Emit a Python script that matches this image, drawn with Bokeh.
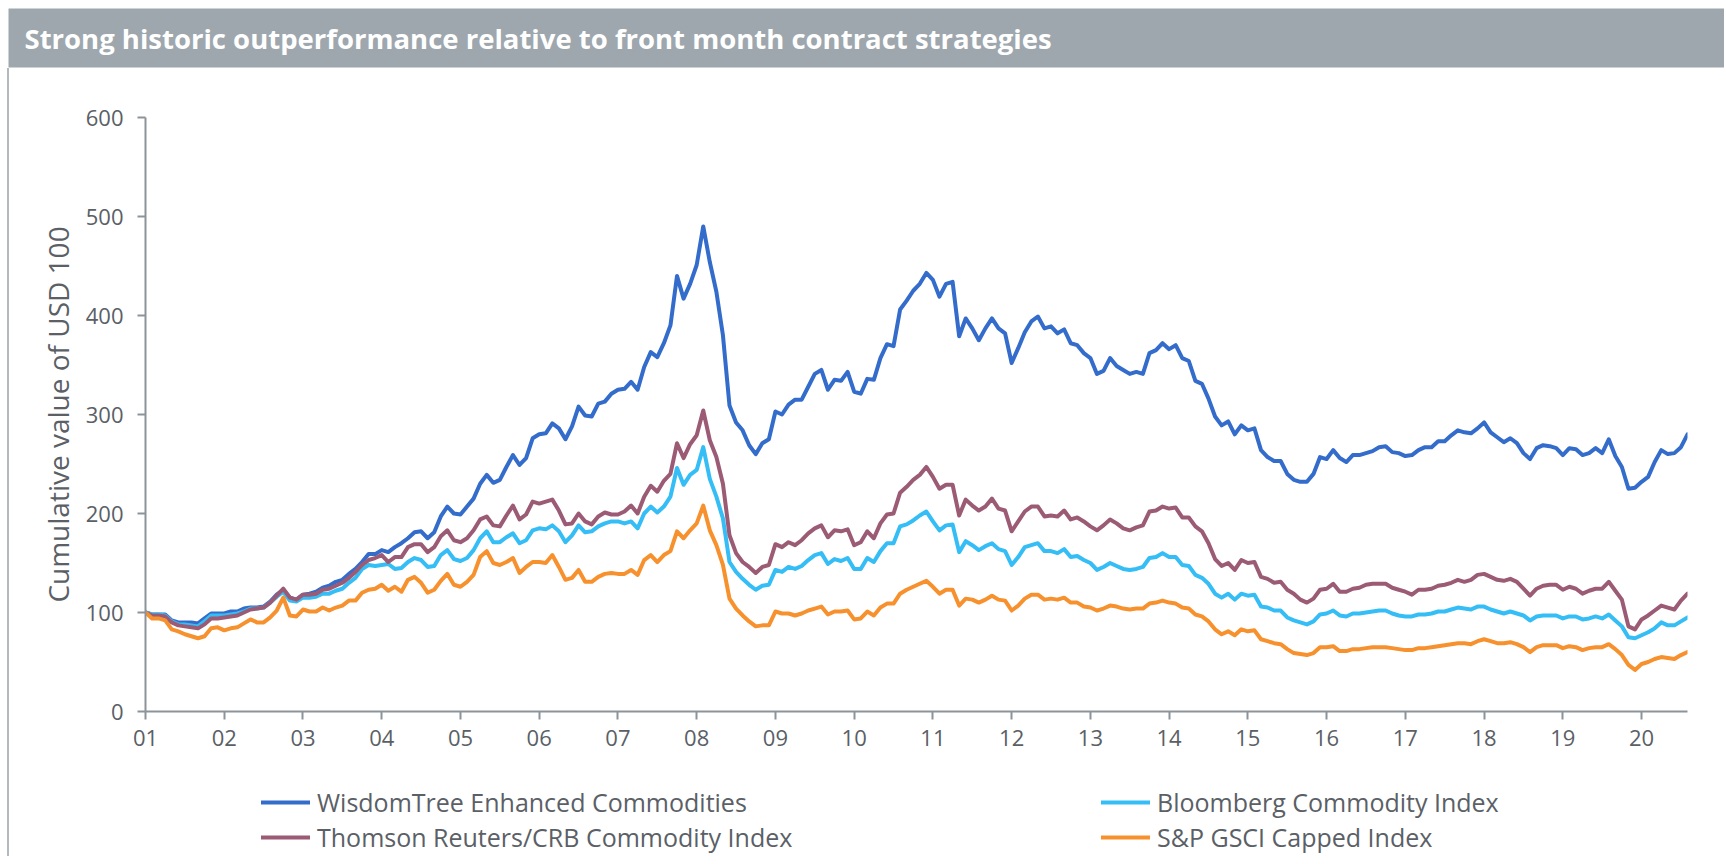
from bokeh.plotting import figure
from bokeh.models import Range1d, FixedTicker, Label, Legend, LegendItem, ColumnDataSource, Div
from bokeh.layouts import column, row
from bokeh.embed import file_html
from bokeh.resources import INLINE
import pandas as pd

# ---------------- data (monthly, Jan 2001 - Aug 2020) ----------------
first_month = "2001-01-01"
year_labels = ["01", "02", "03", "04", "05", "06", "07", "08", "09", "10",
               "11", "12", "13", "14", "15", "16", "17", "18", "19", "20"]
series_names = ["WisdomTree Enhanced Commodities", "Bloomberg Commodity Index",
                "Thomson Reuters/CRB Commodity Index", "S&P GSCI Capped Index"]
title_text = "Strong historic outperformance relative to front month contract strategies"
y_title = "Cumulative value of USD 100"

wisdomtree = [
    100, 98, 98, 98, 92, 90, 90, 90, 89, 94, 99, 99, 99, 101, 101, 104, 105, 105, 106, 111,
    118, 123, 115, 113, 118, 119, 121, 125, 127, 131, 133, 139, 144, 151, 159, 159, 163, 161, 166, 170,
    175, 181, 182, 175, 181, 197, 207, 200, 199, 207, 215, 230, 239, 231, 234, 247, 259, 249, 256, 276,
    280, 281, 291, 286, 275, 288, 308, 299, 298, 311, 313, 321, 325, 326, 333, 325, 348, 363, 358, 372,
    390, 440, 417, 432, 451, 490, 454, 424, 380, 309, 292, 284, 269, 260, 271, 275, 303, 300, 310, 315,
    315, 328, 341, 345, 325, 335, 334, 343, 323, 321, 336, 335, 357, 371, 369, 406, 415, 425, 432,
    443, 436, 419, 432, 434, 379, 397, 387, 375, 387, 397, 387, 382, 352, 367, 383, 394, 399, 387, 389,
    382, 386, 372, 370, 362, 357, 341, 344, 357, 349, 345, 341, 343, 341, 362, 365, 372, 366, 370, 357,
    354, 334, 331, 316, 298, 289, 293, 280, 289, 284, 286, 264, 257, 253, 253, 240, 234, 232, 232, 240,
    257, 255, 264, 256, 252, 259, 259, 261, 263, 267, 268, 262, 261, 258, 259, 264, 267, 267, 273, 273,
    279, 284, 282, 281, 286, 292, 282, 277, 272, 276, 271, 261, 255, 266, 269, 268, 266, 259, 266, 265,
    259, 261, 266, 261, 275, 258, 247, 225, 226, 232, 237, 252, 264, 260, 261, 267, 280]

bloomberg = [
    100, 98, 98, 97, 91, 88, 88, 87, 86, 91, 97, 97, 97, 98, 99, 101, 104, 104, 105, 110,
    116, 121, 112, 111, 115, 115, 116, 119, 119, 122, 124, 130, 135, 144, 148, 147, 148, 149, 144, 145,
    151, 155, 153, 146, 147, 158, 163, 154, 152, 155, 163, 175, 182, 171, 171, 176, 180, 170, 173, 183,
    185, 184, 188, 182, 171, 178, 188, 181, 182, 187, 190, 192, 192, 190, 192, 185, 200, 207, 201, 207,
    217, 246, 229, 239, 244, 267, 235, 217, 195, 151, 141, 134, 128, 123, 127, 128, 143, 141, 146, 144,
    147, 153, 158, 160, 149, 154, 152, 155, 144, 144, 155, 151, 162, 170, 170, 187, 189, 193, 198,
    202, 192, 183, 188, 189, 161, 172, 168, 163, 167, 170, 164, 162, 148, 156, 166, 168, 170, 162, 162,
    160, 164, 156, 157, 153, 150, 143, 146, 150, 147, 144, 143, 144, 146, 155, 156, 160, 156, 156, 148,
    147, 138, 135, 129, 119, 115, 119, 113, 119, 117, 118, 106, 105, 102, 102, 95, 92, 90, 88, 91,
    98, 99, 102, 97, 96, 99, 99, 100, 101, 102, 102, 99, 97, 96, 96, 98, 98, 99, 101, 101,
    103, 105, 104, 103, 106, 106, 103, 101, 99, 101, 99, 97, 92, 96, 97, 97, 97, 94, 96, 96,
    93, 94, 96, 94, 98, 92, 86, 75, 74, 77, 80, 84, 90, 87, 87, 91, 95]

thomson_crb = [
    100, 97, 97, 96, 90, 87, 86, 85, 84, 88, 94, 94, 95, 96, 97, 100, 103, 104, 105, 110,
    117, 124, 115, 113, 118, 118, 119, 123, 124, 127, 130, 135, 141, 148, 153, 155, 158, 151, 156, 156,
    166, 169, 169, 161, 166, 177, 183, 173, 171, 175, 183, 194, 197, 188, 187, 198, 208, 194, 199, 212,
    210, 212, 214, 203, 189, 190, 200, 192, 189, 197, 201, 199, 199, 202, 208, 200, 217, 228, 222, 233,
    240, 271, 256, 270, 279, 304, 274, 257, 230, 178, 160, 151, 146, 140, 146, 148, 169, 166, 171, 168,
    173, 180, 185, 188, 176, 183, 182, 184, 168, 171, 182, 175, 190, 199, 200, 221, 227, 234, 239,
    247, 237, 225, 229, 229, 198, 214, 208, 203, 207, 215, 205, 203, 182, 192, 202, 207, 207, 197, 198,
    197, 203, 194, 196, 192, 187, 183, 188, 194, 190, 185, 183, 186, 188, 202, 203, 207, 205, 206, 196,
    196, 187, 182, 170, 154, 147, 150, 143, 153, 150, 151, 136, 134, 130, 131, 123, 119, 113, 110, 114,
    123, 124, 129, 121, 121, 124, 125, 128, 129, 129, 129, 125, 123, 121, 118, 123, 123, 124, 127, 128,
    130, 133, 131, 133, 138, 139, 136, 133, 132, 134, 131, 124, 117, 124, 127, 128, 128, 123, 126, 124,
    119, 122, 124, 124, 131, 122, 113, 86, 83, 93, 97, 102, 107, 105, 103, 112, 119]

sp_gsci_capped = [
    100, 94, 94, 92, 83, 81, 78, 76, 74, 76, 84, 85, 82, 84, 85, 89, 93, 90, 90, 95,
    102, 115, 97, 96, 103, 101, 101, 105, 102, 105, 107, 112, 112, 120, 123, 124, 128, 122, 126, 121,
    133, 136, 130, 120, 123, 132, 139, 128, 126, 131, 138, 156, 162, 150, 148, 151, 155, 140, 146, 151,
    151, 150, 158, 146, 133, 135, 143, 131, 131, 136, 139, 140, 139, 139, 143, 138, 153, 158, 151, 158,
    162, 182, 175, 183, 190, 208, 183, 168, 148, 114, 104, 97, 91, 86, 87, 87, 101, 99, 99, 97,
    99, 102, 104, 106, 98, 101, 101, 102, 93, 94, 101, 97, 105, 109, 109, 119, 123, 126, 129,
    132, 126, 119, 123, 123, 107, 114, 113, 110, 113, 117, 113, 112, 102, 107, 114, 118, 118, 113, 114,
    113, 115, 110, 110, 106, 105, 102, 104, 107, 106, 104, 103, 104, 104, 109, 110, 112, 110, 109, 105,
    104, 98, 96, 91, 83, 78, 81, 77, 83, 81, 82, 73, 71, 69, 68, 63, 59, 58, 57, 59,
    65, 65, 66, 61, 61, 63, 63, 64, 65, 65, 65, 64, 63, 62, 62, 64, 64, 65, 66, 67,
    68, 69, 69, 68, 71, 73, 71, 69, 69, 70, 68, 65, 60, 65, 67, 67, 67, 64, 66, 65,
    62, 64, 65, 65, 68, 63, 57, 47, 42, 48, 50, 53, 55, 54, 53, 57, 60]

# ---------------- styling ----------------
FONT = "Open Sans"
TEXT_GREY = "#5a6066"
AXIS_GREY = "#8c9399"
BAND_GREY = "#9ea7ae"
BORDER_GREY = "#b3babf"
colors = ["#336ccb", "#35bdf6", "#9c5b74", "#f7912e"]
LW = 4

TOTAL_W = 1724
LEFT_PAD, BORDER_W = 7, 2
OFFSET_X = LEFT_PAD + BORDER_W
TITLE_H = 68
MAIN_W = TOTAL_W - OFFSET_X
MAIN_H = 707
LEG_H = 81
FRAME_L, FRAME_R, FRAME_T, FRAME_B = 145, 1687, 117, 711   # page pixels

# ---------------- title band ----------------
ft = figure(width=TOTAL_W, height=TITLE_H, output_backend="svg", toolbar_location=None, title=None,
            x_axis_type=None, y_axis_type=None, x_range=Range1d(0, 1), y_range=Range1d(0, 1),
            min_border_left=8, min_border_top=8, min_border_bottom=1, min_border_right=0)
ft.outline_line_color = None
ft.xgrid.visible = False
ft.ygrid.visible = False
ft.background_fill_color = BAND_GREY
ft.border_fill_color = "white"
ft.add_layout(Label(x=16, y=29, x_units="screen", y_units="screen", text=title_text,
                    text_font=FONT, text_font_size="27.5px", text_font_style="bold",
                    text_color="white", text_baseline="middle", text_align="left"))

# ---------------- main chart ----------------
dates = pd.date_range(first_month, periods=len(wisdomtree), freq="MS")
month_pos = [(d.year - dates[0].year) * 12 + d.month - 1 for d in dates]
src = ColumnDataSource(dict(x=month_pos, wt=wisdomtree, bb=bloomberg, crb=thomson_crb, gsci=sp_gsci_capped))
keys = ["wt", "bb", "crb", "gsci"]

frame_left = FRAME_L - OFFSET_X
frame_right = FRAME_R - OFFSET_X
frame_top = FRAME_T - TITLE_H
frame_bottom = FRAME_B - TITLE_H

p = figure(width=MAIN_W, height=MAIN_H, output_backend="svg", toolbar_location=None, title=None,
           x_range=Range1d(month_pos[0], month_pos[-1]), y_range=Range1d(0, 600),
           min_border_left=frame_left, min_border_right=MAIN_W - frame_right,
           min_border_top=frame_top, min_border_bottom=MAIN_H - frame_bottom)
p.outline_line_color = None
p.xgrid.visible = False
p.ygrid.visible = False

tick_pos = [(int(l) - 1) * 12 for l in year_labels]
p.xaxis.ticker = FixedTicker(ticks=tick_pos)
p.xaxis.major_label_overrides = {t: l for t, l in zip(tick_pos, year_labels)}
p.yaxis.ticker = FixedTicker(ticks=[0, 100, 200, 300, 400, 500, 600])
p.yaxis.axis_label = y_title

for ax in (p.xaxis[0], p.yaxis[0]):
    ax.axis_line_color = AXIS_GREY
    ax.axis_line_width = 2
    ax.major_tick_line_color = AXIS_GREY
    ax.major_tick_line_width = 2
    ax.major_tick_out = 8
    ax.major_tick_in = 0
    ax.minor_tick_line_color = None
    ax.major_label_text_font = FONT
    ax.major_label_text_font_size = "22px"
    ax.major_label_text_color = TEXT_GREY
    ax.axis_label_text_font = FONT
    ax.axis_label_text_font_size = "28px"
    ax.axis_label_text_font_style = "normal"
    ax.axis_label_text_color = TEXT_GREY
p.yaxis.major_label_standoff = 14
p.xaxis.major_label_standoff = 10
p.yaxis.axis_label_standoff = 6

for k, c in zip(keys, colors):
    p.line("x", k, source=src, line_color=c, line_width=LW, line_join="round", line_cap="round")

# ---------------- legend strip (2 x 2), frame aligned with the chart frame ----------------
fl = figure(width=MAIN_W, height=LEG_H, output_backend="svg", toolbar_location=None, title=None,
            x_axis_type=None, y_axis_type=None, x_range=Range1d(0, 1), y_range=Range1d(1000, 1001),
            min_border_left=frame_left, min_border_right=MAIN_W - frame_right,
            min_border_top=0, min_border_bottom=0)
fl.outline_line_color = None
fl.xgrid.visible = False
fl.ygrid.visible = False
# the same series, drawn outside this strip's visible range: they only feed the legend swatches
swatches = [fl.line("x", k, source=src, line_color=c, line_width=LW, line_cap="round")
            for k, c in zip(keys, colors)]
col_x = [261 - FRAME_L, 1101 - FRAME_L]
row_y = [LEG_H - (804 - (TITLE_H + MAIN_H)) - 15, LEG_H - (839 - (TITLE_H + MAIN_H)) - 15]
slots = [(col_x[0], row_y[0]), (col_x[1], row_y[0]), (col_x[0], row_y[1]), (col_x[1], row_y[1])]
for name, sw, (vx, vy) in zip(series_names, swatches, slots):
    fl.add_layout(Legend(items=[LegendItem(label=name, renderers=[sw])],
                         location=(vx, vy), orientation="horizontal",
                         glyph_width=49, glyph_height=30, label_height=30, label_standoff=7,
                         padding=0, margin=0, spacing=0, border_line_color=None,
                         background_fill_alpha=0, label_text_font=FONT,
                         label_text_font_size="25px", label_text_color=TEXT_GREY,
                         label_text_baseline="middle"))

spacer = Div(text="", width=LEFT_PAD, height=MAIN_H + LEG_H, margin=0)
border = Div(text="", width=BORDER_W, height=MAIN_H + LEG_H, margin=0,
             styles={"background-color": BORDER_GREY})
layout = column(ft, row(spacer, border, column(p, fl, spacing=0), spacing=0), spacing=0)

open("out.html", "w").write(file_html(layout, INLINE))
